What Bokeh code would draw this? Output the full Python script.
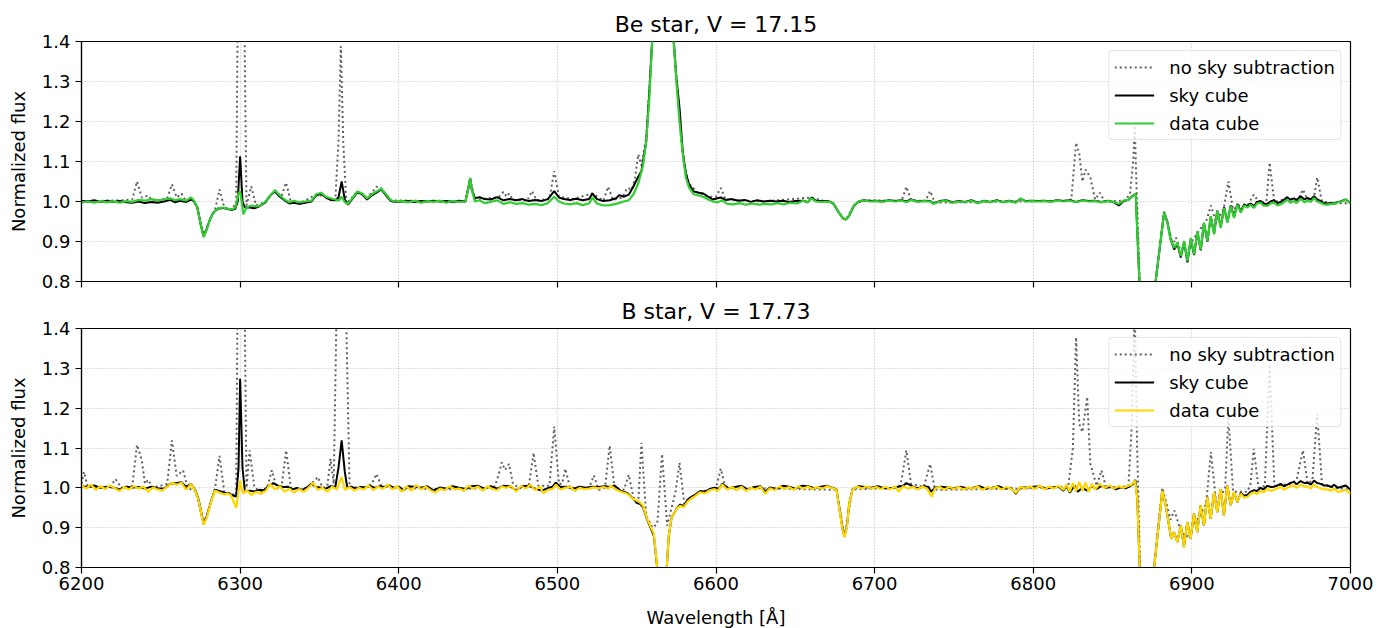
from bokeh.plotting import figure
from bokeh.layouts import column
from bokeh.models import FixedTicker, Range1d, PrintfTickFormatter, CustomJSTickFormatter
from bokeh.embed import file_html
from bokeh.resources import INLINE

# ---------------- data ----------------
x_ticks = [6200, 6300, 6400, 6500, 6600, 6700, 6800, 6900, 7000]
y_ticks = [0.8, 0.9, 1.0, 1.1, 1.2, 1.3, 1.4]
titles = ["Be star, V = 17.15", "B star, V = 17.73"]
series_labels = ["no sky subtraction", "sky cube", "data cube"]

# Be star: data cube (green)
be_data_wave = [
    6200, 6204, 6208, 6212, 6216, 6220, 6224, 6228, 6232, 6236,
    6240, 6244, 6248, 6252, 6256, 6259, 6262, 6266, 6269, 6271,
    6273, 6275, 6277, 6279, 6281, 6283, 6286, 6289, 6292, 6295,
    6297, 6299, 6300, 6301, 6302, 6304, 6307, 6310, 6313, 6316,
    6319, 6322, 6325, 6328, 6331, 6334, 6337, 6341, 6345, 6348,
    6351, 6354, 6357, 6360, 6362, 6364, 6366, 6368, 6371, 6374,
    6377, 6380, 6383, 6386, 6389, 6392, 6395, 6398, 6402, 6406,
    6410, 6414, 6418, 6422, 6426, 6430, 6434, 6438, 6442, 6444,
    6445, 6446, 6448, 6451, 6454, 6458, 6462, 6466, 6470, 6474,
    6478, 6482, 6486, 6490, 6494, 6498, 6501, 6504, 6508, 6512,
    6516, 6520, 6522, 6525, 6529, 6533, 6537, 6541, 6545, 6548,
    6551, 6554, 6556, 6558, 6560, 6566, 6573, 6575, 6577, 6579,
    6581, 6583, 6586, 6589, 6592, 6595, 6598, 6601, 6604, 6607,
    6611, 6615, 6619, 6623, 6627, 6631, 6635, 6639, 6643, 6647,
    6651, 6655, 6658, 6660, 6663, 6667, 6671, 6674, 6677, 6680,
    6682, 6684, 6687, 6690, 6693, 6697, 6701, 6705, 6709, 6713,
    6717, 6720, 6723, 6727, 6731, 6735, 6737, 6741, 6745, 6749,
    6753, 6757, 6761, 6765, 6769, 6773, 6777, 6781, 6785, 6789,
    6792, 6795, 6799, 6803, 6807, 6811, 6815, 6819, 6823, 6827,
    6831, 6835, 6839, 6843, 6847, 6851, 6854, 6857, 6860, 6862,
    6864.6, 6868, 6871, 6874, 6882.5, 6884.5, 6886.5, 6888.8, 6890.9, 6893,
    6895.1, 6897.2, 6899.3, 6901.4, 6903.5, 6905.6, 6907.6, 6909.8, 6911.9, 6914,
    6916, 6918.2, 6920.3, 6922.4, 6924.5, 6926.6, 6928.7, 6930.8, 6933, 6935,
    6937, 6939.2, 6941, 6943.4, 6945, 6947.6, 6950, 6951.8, 6954, 6956,
    6958, 6960.2, 6962, 6964.4, 6966, 6968.6, 6971, 6972.8, 6975, 6977,
    6979, 6981.2, 6983, 6985.4, 6988, 6989.6, 6992, 6993.8, 6997, 7000,
]
be_data_flux = [
    0.998, 1.000, 0.997, 1.001, 0.998, 1.000, 0.997, 1.001, 0.999, 1.004,
    1.002, 1.006, 1.003, 1.005, 1.008, 1.003, 1.006, 1.002, 1.010, 1.002,
    0.985, 0.945, 0.911, 0.930, 0.955, 0.972, 0.983, 0.985, 0.982, 0.980,
    0.985, 1.020, 1.026, 1.000, 0.968, 0.985, 0.990, 0.988, 0.990, 1.000,
    1.015, 1.028, 1.015, 1.005, 0.998, 1.002, 0.998, 1.000, 1.002, 1.018,
    1.022, 1.012, 1.008, 1.005, 1.002, 1.012, 0.998, 0.994, 1.010, 1.025,
    1.020, 1.008, 1.018, 1.025, 1.032, 1.018, 1.003, 1.000, 1.001, 0.998,
    1.002, 0.997, 1.001, 0.999, 1.002, 0.997, 1.001, 0.999, 1.000, 1.035,
    1.059, 1.030, 1.000, 1.003, 0.996, 0.999, 1.003, 0.994, 0.998, 0.994,
    0.996, 0.992, 0.994, 0.991, 0.996, 1.012, 1.000, 0.995, 0.993, 0.996,
    0.991, 0.995, 1.010, 0.995, 0.990, 0.991, 0.994, 0.999, 1.003, 1.018,
    1.045, 1.090, 1.150, 1.260, 1.420, 2.600, 1.420, 1.300, 1.200, 1.120,
    1.060, 1.035, 1.018, 1.015, 1.012, 1.005, 1.000, 0.998, 1.003, 0.994,
    0.993, 0.996, 0.992, 0.995, 0.992, 0.994, 0.993, 0.996, 0.993, 0.997,
    0.995, 1.002, 0.998, 1.008, 1.000, 0.999, 1.000, 0.995, 0.975, 0.958,
    0.955, 0.965, 0.990, 1.000, 1.003, 1.000, 1.001, 0.999, 1.002, 1.000,
    1.002, 0.998, 1.004, 0.999, 1.001, 1.000, 0.994, 1.000, 1.002, 0.997,
    1.000, 0.998, 1.002, 0.996, 1.001, 0.998, 1.002, 0.998, 1.001, 0.997,
    1.008, 1.000, 1.001, 1.000, 1.001, 0.999, 1.002, 1.000, 1.002, 0.998,
    1.002, 1.000, 1.001, 0.998, 1.001, 0.999, 0.994, 1.002, 1.004, 1.012,
    1.019, 0.700, 0.580, 0.700, 0.972, 0.950, 0.905, 0.884, 0.897, 0.863,
    0.901, 0.851, 0.909, 0.868, 0.926, 0.880, 0.947, 0.901, 0.963, 0.918,
    0.976, 0.934, 0.984, 0.947, 0.988, 0.959, 0.992, 0.972, 0.990, 0.985,
    0.992, 0.984, 0.995, 0.997, 0.990, 0.989, 0.996, 0.997, 0.990, 0.993,
    0.998, 1.005, 0.997, 1.001, 0.996, 1.007, 0.998, 1.002, 0.999, 1.009,
    1.000, 0.997, 0.993, 0.992, 0.994, 0.994, 0.998, 0.999, 1.005, 0.995,
]

# Be star: sky cube (black)
be_sky_wave = [
    6200, 6204, 6208, 6212, 6216, 6220, 6224, 6228, 6232, 6236,
    6240, 6244, 6248, 6252, 6256, 6259, 6262, 6266, 6269, 6271,
    6273, 6275, 6277, 6279, 6281, 6283, 6286, 6289, 6292, 6295,
    6297, 6298.5, 6300, 6301.5, 6303, 6306, 6309, 6312, 6316, 6319,
    6322, 6325, 6328, 6331, 6334, 6337, 6341, 6345, 6348, 6351,
    6354, 6357, 6360, 6362, 6364, 6366, 6368, 6371, 6374, 6377,
    6380, 6383, 6386, 6389, 6392, 6395, 6398, 6402, 6406, 6410,
    6414, 6418, 6422, 6426, 6430, 6434, 6438, 6442, 6444, 6445,
    6446, 6448, 6451, 6454, 6458, 6462, 6466, 6470, 6474, 6478,
    6482, 6486, 6490, 6494, 6498, 6501, 6504, 6508, 6512, 6516,
    6520, 6522, 6525, 6529, 6533, 6537, 6539, 6542, 6545, 6548,
    6551, 6553, 6556, 6558, 6560, 6566, 6573, 6575, 6577, 6579,
    6581, 6583, 6586, 6589, 6592, 6595, 6598, 6601, 6603, 6606,
    6610, 6614, 6618, 6622, 6626, 6630, 6634, 6638, 6642, 6646,
    6650, 6655, 6658, 6660, 6663, 6667, 6671, 6674, 6677, 6680,
    6682, 6684, 6687, 6690, 6693, 6697, 6701, 6705, 6709, 6713,
    6717, 6720, 6723, 6727, 6731, 6735, 6737, 6741, 6745, 6749,
    6753, 6757, 6761, 6765, 6769, 6773, 6777, 6781, 6785, 6789,
    6792, 6795, 6799, 6803, 6807, 6811, 6815, 6819, 6823, 6827,
    6831, 6835, 6839, 6843, 6847, 6851, 6854, 6857, 6860, 6862,
    6864.6, 6868, 6871, 6874, 6882.5, 6884.5, 6886.5, 6888.8, 6890.9, 6893,
    6895.1, 6897.2, 6899.3, 6901.4, 6903.5, 6905.6, 6907.6, 6909.8, 6911.9, 6914,
    6916, 6918.2, 6920.3, 6922.4, 6924.5, 6926.6, 6928.7, 6930.8, 6933, 6935,
    6937, 6939.2, 6941, 6943.4, 6945, 6947.6, 6950, 6951.8, 6954, 6956,
    6958, 6960.2, 6962, 6964.4, 6966, 6968.6, 6971, 6972.8, 6975, 6977,
    6979, 6981.2, 6983, 6985.4, 6988, 6989.6, 6992, 6993.8, 6997, 7000,
]
be_sky_flux = [
    1.002, 1.000, 1.003, 0.999, 1.002, 0.999, 1.001, 0.998, 0.997, 1.000,
    0.996, 0.999, 0.997, 1.000, 1.004, 0.998, 1.002, 0.999, 1.005, 1.000,
    0.985, 0.945, 0.913, 0.932, 0.955, 0.972, 0.982, 0.984, 0.981, 0.979,
    0.982, 1.000, 1.113, 1.000, 0.985, 0.985, 0.983, 0.988, 0.998, 1.015,
    1.025, 1.012, 1.003, 0.995, 0.997, 0.994, 0.997, 1.000, 1.015, 1.020,
    1.010, 1.004, 1.003, 1.010, 1.050, 1.005, 0.992, 1.008, 1.023, 1.018,
    1.005, 1.015, 1.022, 1.030, 1.015, 1.001, 0.999, 1.000, 1.001, 0.999,
    1.001, 1.000, 1.002, 1.000, 1.001, 0.999, 1.002, 1.000, 1.035, 1.057,
    1.030, 1.008, 1.011, 1.006, 1.005, 1.011, 1.003, 1.006, 1.003, 1.006,
    1.001, 1.004, 1.001, 1.006, 1.026, 1.010, 1.006, 1.004, 1.007, 1.003,
    1.006, 1.020, 1.006, 1.001, 1.003, 1.008, 1.016, 1.012, 1.017, 1.038,
    1.062, 1.076, 1.150, 1.276, 1.420, 2.600, 1.420, 1.310, 1.234, 1.126,
    1.070, 1.043, 1.025, 1.022, 1.020, 1.012, 1.005, 1.008, 1.010, 1.004,
    1.006, 1.002, 1.004, 0.999, 1.003, 1.000, 1.002, 1.000, 1.002, 0.999,
    1.001, 1.002, 0.998, 1.010, 1.002, 1.001, 1.001, 0.995, 0.975, 0.958,
    0.955, 0.965, 0.990, 1.000, 1.003, 1.001, 1.002, 1.000, 1.003, 1.001,
    1.003, 1.000, 1.005, 1.000, 1.002, 1.001, 0.996, 1.001, 1.003, 0.998,
    1.001, 0.999, 1.003, 0.997, 1.002, 0.999, 1.003, 0.999, 1.002, 0.998,
    1.007, 1.001, 1.002, 1.001, 1.002, 1.000, 1.003, 1.001, 1.003, 0.999,
    1.003, 1.001, 1.002, 0.999, 1.002, 0.998, 0.990, 1.001, 1.004, 1.012,
    1.019, 0.700, 0.580, 0.700, 0.972, 0.950, 0.908, 0.880, 0.894, 0.860,
    0.899, 0.848, 0.906, 0.866, 0.924, 0.878, 0.946, 0.900, 0.962, 0.920,
    0.977, 0.936, 0.986, 0.949, 0.990, 0.962, 0.994, 0.975, 0.993, 0.988,
    0.995, 0.988, 0.999, 1.001, 0.995, 0.994, 1.001, 1.003, 0.996, 0.999,
    1.004, 1.011, 1.004, 1.008, 1.003, 1.013, 1.005, 1.009, 1.005, 1.013,
    1.005, 1.001, 0.996, 0.995, 0.996, 0.995, 0.999, 1.000, 1.005, 0.996,
]

# Be star: no sky subtraction (dotted)
be_nosky_wave = [
    6200, 6215, 6225, 6232, 6235, 6238, 6242, 6245, 6254, 6257,
    6260, 6263, 6266, 6270, 6273, 6277, 6281, 6284, 6287, 6290,
    6295, 6297.5, 6299, 6300.5, 6302, 6304, 6307, 6310, 6316, 6322,
    6326, 6329, 6332, 6340, 6348, 6354, 6360, 6362, 6363.5, 6365,
    6367, 6374, 6380, 6386, 6389, 6395, 6420, 6442, 6445, 6448,
    6462, 6464, 6466, 6468, 6469.5, 6472, 6481, 6484, 6487, 6495,
    6498, 6501, 6510, 6522, 6529, 6532, 6535, 6541, 6544, 6547,
    6549, 6551, 6553, 6556, 6558, 6560, 6566, 6573, 6575, 6578,
    6580, 6583, 6588, 6595, 6600, 6603, 6606, 6630, 6660, 6674,
    6680, 6682, 6687, 6693, 6717, 6720, 6723, 6732, 6735, 6738,
    6790, 6820, 6824, 6827, 6829, 6831, 6833, 6836, 6839, 6842,
    6845, 6858, 6861, 6863, 6864, 6865, 6868, 6871, 6874, 6882.5,
    6885, 6888, 6890, 6893, 6897, 6900, 6905, 6909, 6912, 6915,
    6920, 6923, 6926, 6930, 6935, 6939, 6943, 6947, 6949, 6952,
    6960, 6967, 6970, 6973, 6977, 6979, 6982, 6990, 7000,
]
be_nosky_flux = [
    1.000, 1.002, 1.003, 1.005, 1.050, 1.010, 1.015, 1.000, 1.008, 1.043,
    1.010, 1.020, 1.000, 1.005, 0.985, 0.912, 0.956, 0.975, 1.030, 0.985,
    0.980, 1.000, 1.700, 2.000, 1.700, 0.990, 1.038, 0.990, 0.999, 1.028,
    1.012, 1.047, 0.998, 1.000, 1.018, 1.012, 1.003, 1.150, 1.388, 1.150,
    0.995, 1.025, 1.008, 1.037, 1.033, 1.003, 1.001, 1.000, 1.058, 1.005,
    1.010, 1.014, 1.024, 1.012, 1.020, 1.004, 1.002, 1.026, 1.003, 1.006,
    1.076, 1.012, 1.006, 1.020, 1.002, 1.037, 1.004, 1.010, 1.034, 1.030,
    1.060, 1.118, 1.090, 1.160, 1.280, 1.420, 2.600, 1.420, 1.315, 1.155,
    1.090, 1.045, 1.024, 1.012, 1.012, 1.034, 1.005, 1.000, 1.010, 0.995,
    0.958, 0.955, 0.990, 1.003, 1.002, 1.037, 1.003, 1.001, 1.026, 0.997,
    1.000, 1.002, 1.005, 1.147, 1.120, 1.050, 1.080, 1.060, 1.005, 1.022,
    1.000, 1.002, 1.020, 1.100, 1.190, 1.050, 0.700, 0.580, 0.700, 0.975,
    0.940, 0.890, 0.910, 0.875, 0.870, 0.900, 0.930, 0.950, 0.990, 0.950,
    0.980, 1.050, 0.980, 0.990, 0.990, 1.017, 0.995, 1.000, 1.097, 0.998,
    1.008, 1.005, 1.030, 1.003, 1.010, 1.060, 1.000, 0.995, 0.996,
]

# B star: data cube (yellow)
b_data_wave = [
    6200, 6203, 6206, 6209, 6212, 6215, 6218, 6221, 6224, 6227,
    6230, 6233, 6236, 6239, 6242, 6245, 6248, 6251, 6254, 6257,
    6260, 6263, 6266, 6269, 6272, 6274, 6277, 6279, 6281, 6284,
    6287, 6290, 6292, 6294, 6296, 6297.5, 6299, 6300, 6301, 6302,
    6304, 6307, 6310, 6313, 6316, 6319, 6322, 6325, 6328, 6331,
    6334, 6337, 6340, 6343, 6346, 6349, 6352, 6355, 6358, 6361,
    6364, 6366, 6369, 6372, 6375, 6378, 6381, 6384, 6387, 6390,
    6393, 6396, 6399, 6402, 6405, 6408, 6411, 6414, 6417, 6420,
    6423, 6426, 6429, 6432, 6435, 6438, 6441, 6444, 6447, 6450,
    6453, 6456, 6459, 6462, 6465, 6468, 6471, 6474, 6477, 6480,
    6483, 6486, 6489, 6491, 6494, 6497, 6499, 6502, 6505, 6508,
    6511, 6514, 6517, 6520, 6523, 6526, 6529, 6532, 6534, 6537,
    6540, 6544, 6548, 6552, 6554, 6556.6, 6558.5, 6560.8, 6564.5, 6566.3,
    6568, 6570.2, 6572, 6575.5, 6577.5, 6579.7, 6582, 6584, 6587, 6590,
    6593, 6596, 6599, 6601, 6604, 6607, 6610, 6613, 6616, 6619,
    6622, 6625, 6628, 6631, 6634, 6637, 6640, 6643, 6646, 6649,
    6652, 6655, 6658, 6661, 6664, 6667, 6670, 6673, 6676, 6678,
    6680, 6681, 6682.5, 6684, 6686, 6689, 6692, 6695, 6698, 6701,
    6704, 6707, 6710, 6713, 6715, 6718, 6721, 6724, 6727, 6730,
    6733, 6736, 6738, 6741, 6744, 6747, 6750, 6753, 6756, 6759,
    6762, 6765, 6768, 6771, 6774, 6777, 6780, 6783, 6786, 6789,
    6792, 6795, 6798, 6801, 6804, 6807, 6810, 6813, 6816, 6819,
    6821, 6823, 6825, 6827, 6829, 6831, 6833, 6835, 6837, 6839,
    6842, 6845, 6848, 6851, 6854, 6857, 6860, 6862, 6864.2, 6865.6,
    6868, 6871, 6873, 6878.6, 6881.4, 6883.5, 6885.6, 6887, 6888.7, 6890.8,
    6893, 6895, 6897.1, 6899.2, 6901.3, 6903.4, 6905.5, 6907.6, 6909.7, 6911.8,
    6914, 6916, 6918.1, 6920.2, 6922.3, 6924.5, 6926.6, 6928.7, 6930.8, 6933,
    6935, 6937, 6939.2, 6941, 6943.4, 6945, 6947.6, 6950, 6951.8, 6954,
    6956, 6958, 6960.2, 6962, 6964.4, 6966, 6968.6, 6971, 6972.8, 6975,
    6977, 6979, 6981.2, 6983, 6985.4, 6988, 6989.6, 6992, 6993.8, 6997,
    7000,
]
b_data_flux = [
    1.006, 0.998, 1.008, 0.995, 1.004, 0.997, 1.006, 0.999, 0.992, 1.002,
    0.996, 1.005, 0.998, 1.003, 0.990, 1.001, 0.996, 0.993, 1.003, 1.012,
    1.008, 1.013, 0.995, 1.010, 0.990, 0.965, 0.907, 0.925, 0.955, 0.993,
    0.988, 0.983, 0.986, 0.982, 0.965, 0.950, 0.990, 1.018, 0.995, 0.985,
    0.995, 0.982, 0.990, 0.985, 0.992, 1.010, 0.996, 1.004, 0.990, 0.998,
    0.988, 0.997, 0.990, 1.000, 1.012, 0.995, 1.000, 0.990, 1.003, 0.996,
    1.027, 0.995, 1.002, 0.993, 1.000, 0.996, 1.006, 0.994, 1.003, 0.997,
    1.008, 0.996, 1.004, 0.990, 1.004, 0.993, 1.007, 0.996, 1.003, 0.994,
    0.988, 0.998, 0.994, 1.004, 0.996, 0.998, 0.993, 1.005, 0.998, 1.003,
    0.993, 1.004, 0.997, 0.994, 1.003, 1.000, 1.005, 0.990, 1.005, 0.998,
    1.008, 0.994, 1.004, 0.986, 0.995, 0.997, 1.008, 0.996, 1.000, 1.003,
    0.992, 1.000, 0.997, 0.998, 1.001, 0.999, 1.002, 0.998, 1.005, 0.995,
    0.990, 0.985, 0.972, 0.964, 0.955, 0.922, 0.905, 0.885, 0.740, 0.600,
    0.740, 0.880, 0.925, 0.949, 0.955, 0.951, 0.965, 0.972, 0.980, 0.989,
    0.986, 0.994, 0.997, 0.992, 1.008, 0.996, 1.002, 0.994, 1.003, 0.992,
    1.000, 0.996, 1.003, 0.985, 0.999, 0.994, 1.004, 0.997, 1.002, 0.995,
    1.004, 0.998, 1.003, 0.997, 1.002, 0.998, 1.004, 1.000, 0.995, 0.940,
    0.890, 0.876, 0.900, 0.960, 0.995, 1.003, 0.998, 1.004, 0.998, 1.002,
    0.997, 1.003, 0.996, 1.004, 0.990, 1.004, 0.998, 1.002, 0.996, 1.003,
    0.998, 0.978, 0.998, 1.002, 0.995, 1.003, 0.997, 1.002, 0.996, 1.001,
    0.998, 1.003, 0.995, 1.002, 0.998, 1.003, 0.996, 1.002, 0.998, 0.987,
    1.003, 0.998, 1.004, 0.997, 1.006, 0.996, 1.003, 0.998, 1.005, 0.995,
    1.008, 0.990, 1.012, 0.992, 1.015, 0.993, 1.013, 0.990, 1.010, 0.996,
    1.010, 1.000, 1.006, 0.998, 1.004, 1.000, 1.005, 1.008, 1.018, 0.972,
    0.700, 0.580, 0.680, 0.889, 0.993, 0.956, 0.905, 0.872, 0.889, 0.864,
    0.905, 0.851, 0.914, 0.872, 0.935, 0.889, 0.956, 0.905, 0.977, 0.922,
    0.989, 0.939, 0.997, 0.931, 1.006, 0.956, 0.989, 0.964, 0.985, 0.975,
    0.977, 0.985, 0.989, 0.984, 0.993, 0.988, 0.997, 0.992, 0.995, 0.999,
    1.002, 0.995, 1.000, 1.004, 1.006, 1.000, 1.008, 1.003, 1.004, 0.998,
    1.008, 1.002, 0.999, 0.996, 0.996, 0.993, 0.998, 0.990, 0.991, 0.995,
    0.985,
]

# B star: sky cube (black)
b_sky_wave = [
    6200, 6204, 6208, 6212, 6216, 6220, 6224, 6228, 6232, 6236,
    6240, 6244, 6248, 6252, 6256, 6260, 6263, 6266, 6269, 6272,
    6274, 6277, 6279, 6281, 6284, 6287, 6290, 6293, 6296, 6297.5,
    6299, 6300, 6301.5, 6303, 6306, 6309, 6312, 6315, 6318, 6321,
    6324, 6327, 6330, 6333, 6336, 6339, 6342, 6345, 6348, 6351,
    6354, 6357, 6360, 6362, 6364, 6366, 6367.5, 6370, 6373, 6376,
    6379, 6382, 6385, 6388, 6391, 6394, 6397, 6400, 6403, 6406,
    6410, 6414, 6418, 6422, 6426, 6430, 6434, 6438, 6442, 6446,
    6450, 6454, 6458, 6462, 6466, 6470, 6474, 6478, 6482, 6486,
    6490, 6494, 6497, 6499, 6502, 6506, 6510, 6514, 6518, 6522,
    6526, 6530, 6533, 6536, 6540, 6544, 6548, 6550, 6552, 6554,
    6556.6, 6558.5, 6560.8, 6564.5, 6566.3, 6568, 6570.2, 6572, 6575.5, 6577.5,
    6579.7, 6582, 6584, 6587, 6590, 6593, 6596, 6599, 6602, 6604,
    6608, 6612, 6616, 6620, 6624, 6628, 6631, 6634, 6638, 6642,
    6646, 6650, 6654, 6658, 6662, 6666, 6670, 6673, 6676, 6678,
    6680, 6681, 6682.5, 6684, 6686, 6690, 6694, 6698, 6702, 6706,
    6710, 6714, 6718, 6720, 6722, 6725, 6728, 6731, 6734, 6735.5,
    6738, 6742, 6746, 6750, 6754, 6758, 6762, 6766, 6770, 6774,
    6778, 6782, 6786, 6789, 6792, 6796, 6800, 6804, 6808, 6812,
    6816, 6819, 6821, 6823, 6826, 6828, 6831, 6834, 6837, 6840,
    6843, 6846, 6849, 6852, 6855, 6858, 6861, 6863, 6864.4, 6865.6,
    6868, 6871, 6873, 6878.6, 6881.4, 6883.5, 6885.6, 6887, 6888.7, 6890.8,
    6893, 6895, 6897.1, 6899.2, 6901.3, 6903.4, 6905.5, 6907.6, 6909.7, 6911.8,
    6914, 6916, 6918.1, 6920.2, 6922.3, 6924.5, 6926.6, 6928.7, 6930.8, 6933,
    6935, 6937, 6939.2, 6941, 6943.4, 6945, 6947.6, 6950, 6951.8, 6954,
    6956, 6958, 6960.2, 6962, 6964.4, 6966, 6968.6, 6971, 6972.8, 6975,
    6977, 6979, 6981.2, 6983, 6985.4, 6988, 6989.6, 6992, 6993.8, 6997,
    7000,
]
b_sky_flux = [
    1.004, 1.002, 1.006, 1.000, 1.003, 1.001, 0.996, 1.003, 1.001, 1.002,
    0.998, 1.003, 0.999, 0.998, 1.010, 1.012, 1.014, 1.002, 1.010, 0.992,
    0.968, 0.910, 0.928, 0.957, 0.995, 0.992, 0.988, 0.986, 0.980, 0.978,
    1.050, 1.274, 1.050, 0.992, 0.993, 0.991, 0.995, 0.994, 1.005, 1.012,
    1.005, 1.002, 1.003, 0.996, 1.000, 0.994, 1.001, 1.010, 1.002, 1.000,
    0.998, 1.004, 1.002, 1.050, 1.119, 1.040, 1.002, 1.003, 0.998, 1.002,
    1.001, 1.005, 1.000, 1.004, 1.002, 1.006, 1.000, 1.003, 0.994, 1.004,
    1.003, 1.000, 1.004, 0.993, 1.001, 0.998, 1.004, 1.000, 0.997, 1.004,
    1.005, 0.998, 1.004, 0.998, 1.005, 1.004, 0.994, 1.004, 1.005, 0.998,
    0.993, 0.999, 1.003, 1.013, 1.002, 1.003, 0.997, 1.003, 1.000, 1.003,
    1.002, 1.004, 1.002, 1.006, 0.992, 0.987, 0.972, 0.962, 0.960, 0.952,
    0.920, 0.902, 0.880, 0.740, 0.600, 0.740, 0.878, 0.925, 0.950, 0.958,
    0.954, 0.970, 0.976, 0.983, 0.992, 0.990, 0.997, 1.000, 0.998, 1.010,
    0.999, 1.002, 1.005, 0.996, 1.002, 1.004, 0.990, 1.001, 0.997, 1.005,
    1.003, 0.998, 1.005, 1.004, 0.999, 1.003, 1.005, 1.001, 0.996, 0.942,
    0.892, 0.878, 0.902, 0.961, 0.996, 1.004, 1.002, 1.000, 1.004, 0.999,
    0.999, 1.002, 1.005, 1.012, 1.008, 1.001, 0.999, 1.004, 1.002, 0.990,
    1.000, 1.003, 1.001, 0.999, 1.003, 0.999, 1.000, 1.004, 0.998, 1.000,
    1.004, 0.998, 1.000, 0.985, 1.002, 1.000, 1.003, 1.004, 0.998, 1.001,
    1.003, 0.993, 1.004, 0.988, 1.006, 0.990, 1.000, 0.993, 1.004, 0.997,
    1.005, 1.000, 1.003, 0.996, 1.001, 0.999, 1.004, 1.010, 1.020, 0.972,
    0.700, 0.580, 0.680, 0.889, 0.993, 0.956, 0.905, 0.872, 0.889, 0.864,
    0.905, 0.851, 0.914, 0.872, 0.935, 0.889, 0.956, 0.905, 0.977, 0.922,
    0.989, 0.939, 0.997, 0.931, 1.006, 0.956, 0.989, 0.964, 0.987, 0.980,
    0.982, 0.990, 0.994, 0.992, 1.000, 0.996, 1.005, 1.002, 1.003, 1.006,
    1.010, 1.004, 1.008, 1.012, 1.015, 1.009, 1.017, 1.012, 1.013, 1.008,
    1.018, 1.012, 1.010, 1.006, 1.006, 1.002, 1.008, 1.000, 1.002, 1.006,
    0.995,
]

# B star: no sky subtraction (dotted)
b_nosky_wave = [
    6200, 6201.5, 6204, 6218, 6221.5, 6225, 6232, 6235, 6238, 6240,
    6242, 6245, 6254, 6257, 6260, 6264, 6267, 6272, 6277, 6281,
    6284, 6287, 6290, 6295, 6297.5, 6299, 6300.5, 6302, 6304, 6306,
    6309, 6314, 6317, 6320, 6323, 6326, 6329, 6332, 6340, 6345,
    6349, 6352, 6355, 6357, 6359, 6361, 6364, 6366.5, 6369, 6378,
    6383, 6386, 6389, 6400, 6430, 6460, 6462, 6465, 6467, 6469.5,
    6472, 6476, 6482, 6485, 6488, 6495, 6498, 6501, 6503, 6505,
    6508, 6520, 6523, 6526, 6530, 6533, 6536, 6542, 6545, 6548,
    6551, 6553, 6556, 6560, 6563, 6566, 6569.2, 6572, 6574.5, 6577,
    6580, 6585, 6590, 6600, 6603, 6606, 6640, 6676, 6681, 6686,
    6715, 6717, 6720, 6723, 6731, 6735, 6738, 6790, 6822, 6825,
    6827, 6829, 6831, 6834, 6836, 6840, 6843, 6846, 6860, 6862,
    6864, 6865.5, 6868, 6871, 6873, 6878.6, 6881.4, 6884, 6886.5, 6889,
    6892, 6896, 6900, 6905, 6909, 6912, 6915, 6919, 6921, 6923,
    6926, 6930, 6935, 6937, 6939, 6942, 6946, 6949, 6952, 6962,
    6966, 6970, 6973, 6976, 6979, 6982, 6990, 7000,
]
b_nosky_flux = [
    1.010, 1.040, 1.002, 1.002, 1.022, 1.000, 1.005, 1.108, 1.070, 1.010,
    1.020, 1.000, 1.010, 1.119, 1.030, 1.044, 1.000, 0.990, 0.909, 0.957,
    0.993, 1.080, 0.990, 0.985, 0.980, 1.800, 2.200, 1.800, 1.000, 1.094,
    1.000, 0.990, 1.000, 1.044, 1.000, 0.998, 1.094, 1.000, 0.995, 1.010,
    1.027, 1.000, 1.005, 1.073, 1.010, 1.500, 1.900, 1.500, 1.002, 1.000,
    1.010, 1.035, 1.005, 1.000, 0.996, 1.000, 1.020, 1.064, 1.045, 1.060,
    1.010, 1.000, 1.005, 1.088, 1.005, 1.005, 1.154, 1.010, 1.010, 1.048,
    1.000, 1.000, 1.031, 0.995, 1.000, 1.106, 1.000, 0.995, 1.033, 0.975,
    0.965, 1.113, 0.930, 0.900, 0.910, 1.085, 0.905, 0.950, 0.990, 1.063,
    0.960, 0.975, 0.990, 1.000, 1.048, 1.000, 0.998, 0.995, 0.878, 0.996,
    1.000, 1.020, 1.094, 1.010, 1.002, 1.060, 0.995, 0.998, 1.002, 1.100,
    1.378, 1.160, 1.140, 1.228, 1.060, 1.005, 1.044, 1.000, 1.004, 1.150,
    1.450, 1.100, 0.700, 0.580, 0.680, 0.900, 1.000, 0.960, 0.920, 0.943,
    0.905, 0.870, 0.900, 0.930, 0.960, 1.090, 0.975, 0.985, 1.000, 1.180,
    0.990, 0.990, 0.990, 1.010, 1.098, 1.000, 1.005, 1.310, 1.005, 1.010,
    1.020, 1.094, 1.010, 1.020, 1.186, 1.010, 1.000, 0.995,
]

panels = [
    (titles[0], be_nosky_wave, be_nosky_flux, be_sky_wave, be_sky_flux,
     be_data_wave, be_data_flux, "#32cd32"),
    (titles[1], b_nosky_wave, b_nosky_flux, b_sky_wave, b_sky_flux,
     b_data_wave, b_data_flux, "#ffd700"),
]

FONT = "DejaVu Sans"


def make_panel(idx, title, nw, nf, sw, sf, dw, df, color):
    top_border = 41 if idx == 0 else 37
    bottom_border = 10 if idx == 0 else 56
    frame_h = 240 if idx == 0 else 239
    p = figure(
        frame_width=1269, frame_height=frame_h,
        x_range=Range1d(6200, 7000), y_range=Range1d(0.8, 1.4),
        output_backend="svg", toolbar_location=None,
        min_border_left=81, min_border_right=40,
        min_border_top=top_border, min_border_bottom=bottom_border,
        background_fill_color="white", border_fill_color="white",
    )
    p.title.text = title
    p.title.align = "center"
    p.title.text_font = FONT
    p.title.text_font_size = "22px"
    p.title.text_font_style = "normal"
    p.title.text_color = "black"
    p.title.standoff = 9

    p.line(nw, nf, line_color="#606060", line_width=2, line_dash="2 3",
           legend_label=series_labels[0])
    p.line(sw, sf, line_color="black", line_width=2,
           legend_label=series_labels[1])
    p.line(dw, df, line_color=color, line_width=2.2,
           legend_label=series_labels[2])

    p.outline_line_color = "black"
    p.outline_line_width = 1.2
    p.outline_line_alpha = 1.0

    p.xaxis.ticker = FixedTicker(ticks=x_ticks)
    p.yaxis.ticker = FixedTicker(ticks=y_ticks)
    p.yaxis.formatter = PrintfTickFormatter(format="%.1f")
    for ax in (p.xaxis[0], p.yaxis[0]):
        ax.axis_line_color = "black"
        ax.axis_line_width = 1.2
        ax.major_tick_line_color = "black"
        ax.major_tick_line_width = 1.2
        ax.major_tick_out = 6
        ax.major_tick_in = 0
        ax.minor_tick_line_color = None
        ax.major_label_text_font = FONT
        ax.major_label_text_font_size = "18px"
        ax.major_label_text_color = "black"
        ax.major_label_standoff = 5
        ax.axis_label_text_font = FONT
        ax.axis_label_text_font_size = "18px"
        ax.axis_label_text_font_style = "normal"
        ax.axis_label_text_color = "black"
    p.yaxis.axis_label = "Normalized flux"
    p.yaxis.axis_label_standoff = 10
    if idx == 0:
        p.xaxis.formatter = CustomJSTickFormatter(code="return ''")
        p.xaxis.major_label_standoff = 0
    else:
        p.xaxis.axis_label = "Wavelength [Å]"
        p.xaxis.axis_label_standoff = 14
        p.xaxis.major_label_standoff = 3

    p.xgrid[0].ticker = p.xaxis[0].ticker
    p.ygrid[0].ticker = p.yaxis[0].ticker
    for g in (p.xgrid[0], p.ygrid[0]):
        g.grid_line_color = "#c0c0c0"
        g.grid_line_width = 1.2
        g.grid_line_dash = "1 2"

    leg = p.legend[0]
    leg.location = "top_right"
    leg.margin = 9
    leg.padding = 5
    leg.spacing = 6
    leg.label_height = 22
    leg.glyph_height = 22
    leg.glyph_width = 40
    leg.label_standoff = 15
    leg.label_text_font = FONT
    leg.label_text_font_size = "18px"
    leg.label_text_color = "black"
    leg.border_line_color = "#cccccc"
    leg.border_line_width = 1
    leg.background_fill_color = "white"
    leg.background_fill_alpha = 0.8
    try:
        leg.border_radius = 4
    except Exception:
        pass
    return p


figs = [make_panel(i, *panels[i]) for i in range(2)]
layout = column(*figs, spacing=0)
open("out.html", "w").write(file_html(layout, INLINE))
